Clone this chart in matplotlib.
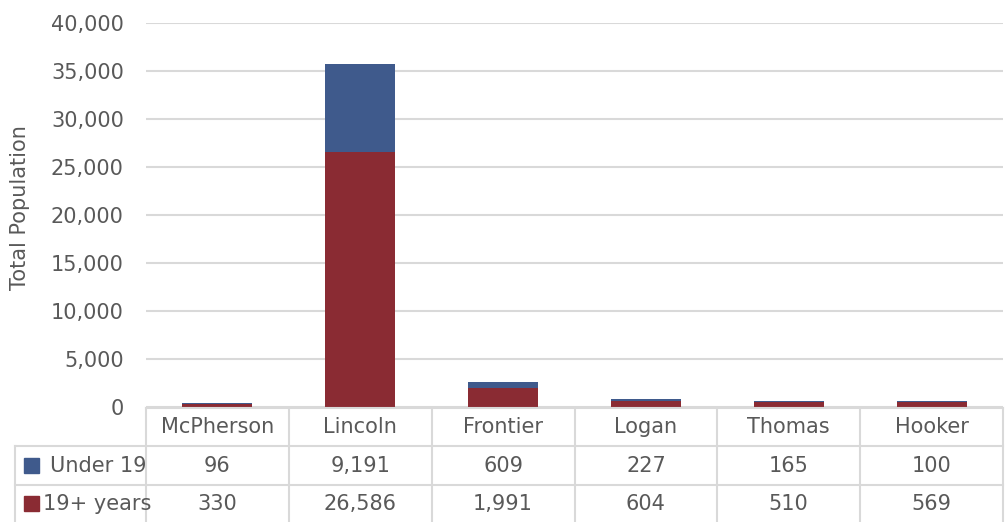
import numpy as np
import matplotlib.pyplot as plt
from matplotlib.ticker import FuncFormatter

#-------------------------------------------------------------------------------
# Data
#-------------------------------------------------------------------------------
counties  = ['McPherson', 'Lincoln', 'Frontier', 'Logan', 'Thomas', 'Hooker']
under_19  = [96, 9191, 609, 227, 165, 100]
adults_19 = [330, 26586, 1991, 604, 510, 569]
series_names = ['Under 19', '19+ years']

#-------------------------------------------------------------------------------
# Settings
#-------------------------------------------------------------------------------
W, H = 1008, 522
c_blue = '#3f5a8c'
c_red  = '#8a2b33'
c_grid = '#d9d9d9'
c_text = '#595959'
fs = 15
plt.rcParams['font.family'] = ['DejaVu Sans']

fig = plt.figure(figsize=(W/100, H/100), dpi=100)
# plot area in pixel coords
x0, x1 = 146, 1003
y_top, y_bot = 23, 407
ax = fig.add_axes([x0/W, 1-y_bot/H, (x1-x0)/W, (y_bot-y_top)/H])

xpos = np.arange(len(counties))
ax.bar(xpos, adults_19, width=0.49, color=c_red, zorder=3)
ax.bar(xpos, under_19, width=0.49, bottom=adults_19, color=c_blue, zorder=3)

ax.set_xlim(-0.5, len(counties)-0.5)
ax.set_ylim(0, 40000)
ax.set_yticks(np.arange(0, 40001, 5000))
ax.yaxis.set_major_formatter(FuncFormatter(lambda v, p: f'{int(v):,}'))
ax.tick_params(axis='y', length=0, pad=16, labelsize=fs, labelcolor=c_text)
ax.set_xticks([])
ax.grid(axis='y', color=c_grid, linewidth=1.5, zorder=0)
for s in ax.spines.values():
    s.set_visible(False)
ax.set_ylabel('Total Population', fontsize=fs, color=c_text)
ax.yaxis.set_label_coords((30 - x0)/(x1 - x0), 0.52)

#-------------------------------------------------------------------------------
# Data table below the plot (drawn in figure pixel coords)
#-------------------------------------------------------------------------------
def fx(px): return px / W
def fy(py): return 1 - py / H
def hline(xa, xb, y):
    fig.add_artist(plt.Line2D([fx(xa), fx(xb)], [fy(y), fy(y)], color=c_grid, lw=1.5))
def vline(x, ya, yb):
    fig.add_artist(plt.Line2D([fx(x), fx(x)], [fy(ya), fy(yb)], color=c_grid, lw=1.5))

row_y = [408, 446, 485, 522]
lab_x = 15
col_w = (x1 - x0) / len(counties)

hline(x0, x1, row_y[0])
hline(lab_x, x1, row_y[1])
hline(lab_x, x1, row_y[2])
vline(lab_x, row_y[1], row_y[3])
for i in range(len(counties)+1):
    vline(x0 + i*col_w, row_y[0], row_y[3])

for i, name in enumerate(counties):
    cx = x0 + (i+0.5)*col_w
    fig.text(fx(cx), fy((row_y[0]+row_y[1])/2), name, ha='center', va='center',
             fontsize=fs, color=c_text)
    fig.text(fx(cx), fy((row_y[1]+row_y[2])/2), f'{under_19[i]:,}', ha='center',
             va='center', fontsize=fs, color=c_text)
    fig.text(fx(cx), fy((row_y[2]+row_y[3])/2), f'{adults_19[i]:,}', ha='center',
             va='center', fontsize=fs, color=c_text)

for r, (name, col) in enumerate(zip(series_names, [c_blue, c_red])):
    yc = (row_y[r+1] + row_y[r+2]) / 2
    fig.add_artist(plt.Rectangle((fx(24), fy(yc+7.5)), 15/W, 15/H, color=col,
                                 transform=fig.transFigure))
    fig.text(fx(50 if r == 0 else 43), fy(yc), name, ha='left', va='center',
             fontsize=fs, color=c_text)

fig.savefig('out.png', dpi=100)
